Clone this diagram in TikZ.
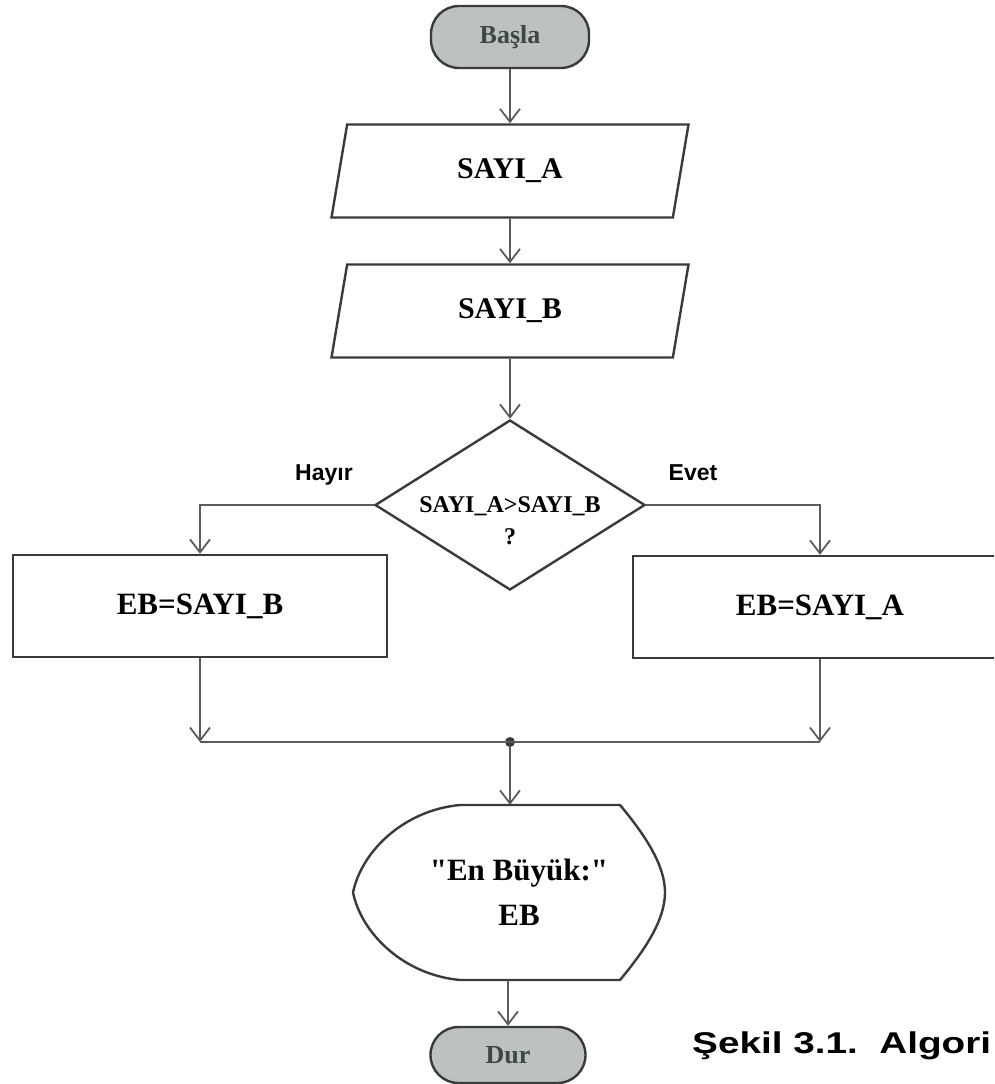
\documentclass[tikz,border=0pt]{standalone}
\usepackage{fontspec}
\setmainfont{Liberation Serif}
\newfontfamily\armfont{Liberation Sans}
\usepackage{tikz}
\usetikzlibrary{arrows.meta, shapes.geometric}
\definecolor{termfill}{HTML}{BCC2C2}
\definecolor{termtext}{HTML}{3E4646}
\definecolor{inkgray}{HTML}{3A3A3A}
\definecolor{flowgray}{HTML}{5C5C5C}

\begin{document}
\begin{tikzpicture}[x=1pt, y=-1pt,
  terminal/.style={rectangle, rounded corners=28pt, draw=inkgray, line width=2.4pt,
                   fill=termfill, text=termtext, minimum width=158pt, minimum height=62pt,
                   font=\fontsize{26}{30}\selectfont\bfseries},
  io/.style={trapezium, trapezium left angle=63, trapezium right angle=117,
             trapezium stretches body, draw=inkgray, line width=2.4pt,
             minimum width=357pt, minimum height=93pt, font=\fontsize{30}{36}\selectfont\bfseries},
  process/.style={rectangle, draw=inkgray, line width=2.4pt, minimum width=374pt,
                  minimum height=102pt, font=\fontsize{31}{36}\selectfont\bfseries},
  decision/.style={diamond, draw=inkgray, line width=2.4pt, inner sep=0pt,
                   minimum width=270pt, minimum height=170pt},
  condtext/.style={align=center, font=\fontsize{24}{32}\selectfont\bfseries},
  showtext/.style={align=center, minimum height=175pt, inner sep=0pt,
                   font=\fontsize{31}{45}\selectfont\bfseries},
  shapeline/.style={draw=inkgray, line width=2.4pt},
  branch/.style={font=\armfont\fontsize{23}{26}\selectfont\bfseries},
  caption/.style={font=\armfont\fontsize{30}{34}\selectfont\bfseries, inner sep=0pt},
  flow/.style={draw=flowgray, line width=1.8pt, -{Straight Barb[length=13pt, width=20pt]}},
  link/.style={draw=flowgray, line width=1.8pt},
  dot/.style={circle, fill=inkgray, inner sep=0pt, minimum size=10pt},
]
\useasboundingbox (0,0) rectangle (994,1084);
\clip (0,0) rectangle (994,1084);

\node[terminal] (start) at (510,37) {Başla};
\node[io] (readA) at (510,171) {SAYI\_A};
\node[io] (readB) at (510,311) {SAYI\_B};
\node[decision] (cmp) at (510,505) {};
\node[condtext] (cmptext) at (510,521) {SAYI\_A>SAYI\_B\\?};
\node[branch] (no) at (324,475) {Hayır};
\node[branch] (yes) at (693,473) {Evet};
\node[process] (setB) at (200,606) {EB=SAYI\_B};
\node[process] (setA) at (820,607) {EB=SAYI\_A};
\node[dot] (join) at (510,742) {};
\node[showtext] (show) at (519,892.5) {\textquotedbl En Büyük:\textquotedbl\\EB};
\node[terminal, minimum width=155pt, minimum height=56pt] (stop) at (508,1055) {Dur};
\node[caption, anchor=base west] (cap) at (692,1053) {\scalebox{1.29}[1]{Şekil 3.1.\ \ Algori}};

% display symbol
\draw[shapeline] (460,805) -- (620,805) .. controls (645,835) and (665,865) .. (665,892.5)
  .. controls (665,920) and (645,950) .. (620,980) -- (460,980)
  .. controls (405,975) and (362,935) .. (353,892.5)
  .. controls (362,850) and (405,810) .. cycle;

\draw[flow] (start) -- (readA);
\draw[flow] (readA) -- (readB);
\draw[flow] (readB) -- (cmp);
\draw[flow] (cmp.west) -| (setB.north);
\draw[flow] (cmp.east) -| (setA.north);
\draw[flow] (setB.south) -- (setB.south |- join);
\draw[flow] (setA.south) -- (setA.south |- join);
\draw[link] (setB.south |- join) -- (setA.south |- join);
\draw[flow] (join) -- (join |- show.north);
\draw[flow] (show.south -| stop) -- (stop.north);

\end{tikzpicture}
\end{document}
